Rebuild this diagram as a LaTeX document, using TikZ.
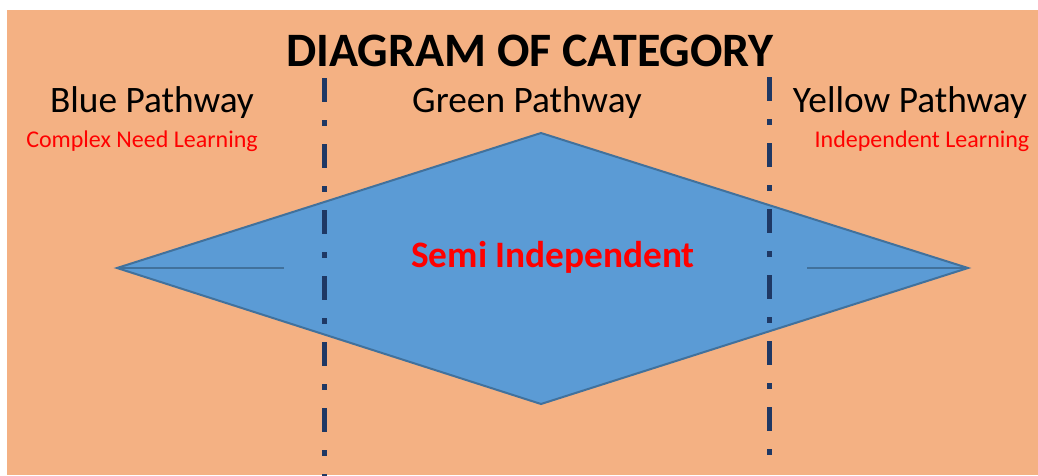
\documentclass[tikz,border=0pt]{standalone}
\usepackage{fontspec}
\setmainfont{Carlito}
\usepackage{xcolor}
\definecolor{bgorange}{RGB}{244,177,131}
\definecolor{shapeblue}{RGB}{91,155,213}
\definecolor{shapeedge}{RGB}{65,113,156}
\definecolor{divnavy}{RGB}{31,56,100}
\tikzset{
  lbl/.style={anchor=base,inner sep=0pt},
  divider/.style={draw=divnavy,line width=3.75pt,dash pattern=on 18pt off 13.5pt on 4.5pt off 13.5pt}
}
\begin{document}
\begin{tikzpicture}[x=0.75pt,y=-0.75pt]
\useasboundingbox (0,0) rectangle (1038,475);
\fill[white] (0,0) rectangle (1038,475);
\fill[bgorange] (7,10) rectangle (1038,475);
\draw (117,268) coordinate(west); 
\draw (541,133) coordinate(north); 
\draw (968,268) coordinate(east); 
\draw (541,404) coordinate(south); 
\draw[fill=shapeblue,draw=shapeedge,line width=1.5pt,line join=miter] (west) -- (north) -- (east) -- (south) -- cycle;
\draw (284,268) coordinate(westend); 
\draw (807,268) coordinate(eastend); 
\draw[shapeedge,line width=1.5pt] (west) -- (westend);
\draw[shapeedge,line width=1.5pt] (eastend) -- (east);
\draw (324,78) coordinate(ltop); 
\draw (324,476) coordinate(lbot); 
\draw (769,77) coordinate(rtop); 
\draw (769,460) coordinate(rbot); 
\draw[divider] (ltop) -- (lbot);
\draw[divider] (rtop) -- (rbot);
\draw (530,66) node[lbl,font=\fontsize{36}{40}\selectfont\bfseries](title) {DIAGRAM OF CATEGORY}; 
\draw (152,112) node[lbl,font=\fontsize{28}{32}\selectfont](blue) {Blue Pathway}; 
\draw (527,112) node[lbl,font=\fontsize{28}{32}\selectfont](green) {Green Pathway}; 
\draw (910,112) node[lbl,font=\fontsize{28}{32}\selectfont](yellow) {Yellow Pathway}; 
\draw (142,147) node[lbl,red,font=\fontsize{18}{21}\selectfont](complex) {Complex Need Learning}; 
\draw (922,147) node[lbl,red,font=\fontsize{18}{21}\selectfont](indep) {Independent Learning}; 
\draw (553,267) node[lbl,red,font=\fontsize{28}{32}\selectfont\bfseries](semi) {Semi Independent}; 
\end{tikzpicture}
\end{document}
